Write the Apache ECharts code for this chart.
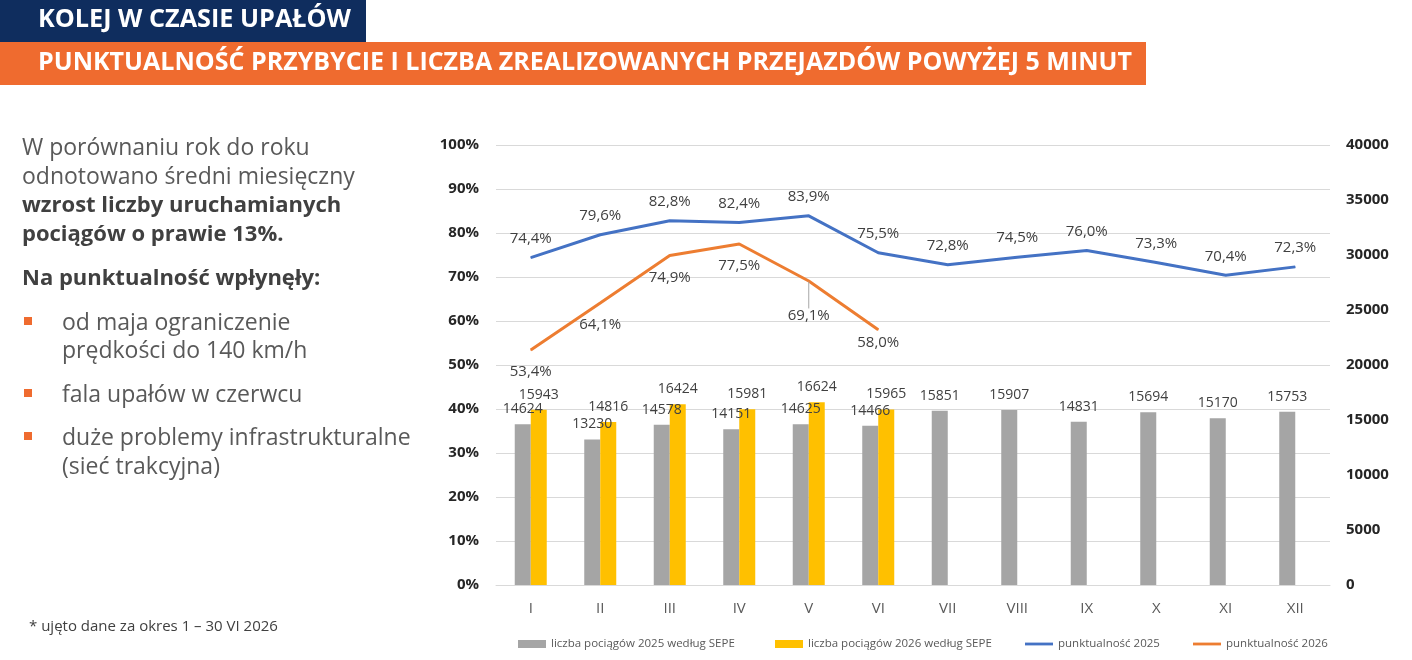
<!DOCTYPE html>
<html>
<head>
<meta charset="utf-8">
<script src="https://cdn.jsdelivr.net/npm/echarts@6/dist/echarts.min.js"></script>
<style>
  html, body { margin: 0; padding: 0; background: #fff; }
  #main { width: 1412px; height: 660px; }
</style>
</head>
<body>
<div id="main"></div>
<script>
// dane
var months = ['I', 'II', 'III', 'IV', 'V', 'VI', 'VII', 'VIII', 'IX', 'X', 'XI', 'XII'];
var trains2025 = [14624, 13230, 14578, 14151, 14625, 14466, 15851, 15907, 14831, 15694, 15170, 15753];
var trains2026 = [15943, 14816, 16424, 15981, 16624, 15965];
var punct2025 = [74.4, 79.6, 82.8, 82.4, 83.9, 75.5, 72.8, 74.5, 76.0, 73.3, 70.4, 72.3];
var punct2026 = [53.4, 64.1, 74.9, 77.5, 69.1, 58.0];

var seriesNames = ['liczba pociągów 2025 według SEPE', 'liczba pociągów 2026 według SEPE', 'punktualność 2025', 'punktualność 2026'];

var titleTop = 'KOLEJ W CZASIE UPAŁÓW';
var titleSub = 'PUNKTUALNOŚĆ PRZYBYCIE I LICZBA ZREALIZOWANYCH PRZEJAZDÓW POWYŻEJ 5 MINUT';
var footnote = '* ujęto dane za okres 1 – 30 VI 2026';

var FONT = '"Open Sans", "Noto Sans", sans-serif';

// szerokosc tekstu -> skala pozioma (naglowki sa w kroju waskim)
function fitScale(text, font, target) {
  var ctx = document.createElement('canvas').getContext('2d');
  ctx.font = font;
  return target / ctx.measureText(text).width;
}
var headFont = 'bold 25px ' + FONT;

function pct(v) {
  return v.toFixed(1).replace('.', ',') + '%';
}

// tekst po lewej
var leftLines = [
  { t: 'W porównaniu rok do roku', x: 22, y: 148, bold: false },
  { t: 'odnotowano średni miesięczny', x: 22, y: 177, bold: false },
  { t: 'wzrost liczby uruchamianych', x: 22, y: 206, bold: true },
  { t: 'pociągów o prawie 13%.', x: 22, y: 235, bold: true },
  { t: 'Na punktualność wpłynęły:', x: 22, y: 279, bold: true },
  { t: 'od maja ograniczenie', x: 62, y: 323, bold: false },
  { t: 'prędkości do 140 km/h', x: 62, y: 351, bold: false },
  { t: 'fala upałów w czerwcu', x: 62, y: 395, bold: false },
  { t: 'duże problemy infrastrukturalne', x: 62, y: 438, bold: false },
  { t: '(sieć trakcyjna)', x: 62, y: 467, bold: false }
];
var bulletY = [321, 393, 436];

var graphics = [
  { type: 'rect', shape: { x: 0, y: 0, width: 366, height: 42 }, style: { fill: '#0F2D5E' } },
  { type: 'rect', shape: { x: 0, y: 42, width: 1146, height: 43 }, style: { fill: '#EF6B2F' } },
  { type: 'text', x: 38, y: 20, scaleX: fitScale(titleTop, headFont, 313),
    style: { text: titleTop, font: headFont, fill: '#fff', verticalAlign: 'middle' } },
  { type: 'text', x: 38, y: 63, scaleX: fitScale(titleSub, headFont, 1094),
    style: { text: titleSub, font: headFont, fill: '#fff', verticalAlign: 'middle' } },
  { type: 'text', x: 29, y: 627,
    style: { text: footnote, font: '15px ' + FONT, fill: '#404040', verticalAlign: 'middle' } }
];
leftLines.forEach(function (l) {
  graphics.push({
    type: 'text', x: l.x, y: l.y,
    style: {
      text: l.t,
      font: (l.bold ? 'bold 22px ' : '23px ') + FONT,
      fill: l.bold ? '#404040' : '#595959',
      verticalAlign: 'middle'
    }
  });
});
bulletY.forEach(function (y) {
  graphics.push({ type: 'rect', shape: { x: 24, y: y - 4, width: 8, height: 8 }, style: { fill: '#EF6B2F' } });
});

var myChart = echarts.init(document.getElementById('main'));

var legendBase = {
  top: 633,
  itemWidth: 28,
  itemHeight: 8,
  textStyle: { fontFamily: FONT, fontSize: 11.5, color: '#595959' },
  selectedMode: false
};
function legendAt(left, name, icon) {
  return Object.assign({}, legendBase, { left: left, data: [{ name: name, icon: icon }] });
}

option = {
  animation: false,
  textStyle: { fontFamily: FONT },
  graphic: graphics,
  legend: [
    legendAt(513, seriesNames[0], 'rect'),
    legendAt(770, seriesNames[1], 'rect'),
    legendAt(1020, seriesNames[2], 'path://M0 0H30V3H0Z'),
    legendAt(1188, seriesNames[3], 'path://M0 0H30V3H0Z')
  ],
  grid: { left: 496, right: 82, top: 145, bottom: 75 },
  xAxis: {
    type: 'category',
    data: months,
    axisLine: { lineStyle: { color: '#d9d9d9' } },
    axisTick: { show: false },
    axisLabel: { color: '#595959', fontSize: 15, margin: 16 }
  },
  yAxis: [
    {
      type: 'value',
      min: 0, max: 100, interval: 10,
      axisLine: { show: false },
      axisTick: { show: false },
      axisLabel: { formatter: '{value}%', fontWeight: 'bold', fontSize: 15, color: '#262626', margin: 17 },
      splitLine: { lineStyle: { color: '#d9d9d9' } }
    },
    {
      type: 'value',
      position: 'right',
      min: 0, max: 40000, interval: 5000,
      axisLine: { show: false },
      axisTick: { show: false },
      axisLabel: {
        fontWeight: 'bold', fontSize: 15, color: '#262626', margin: 16,
        formatter: function (v) { return String(v); }
      },
      splitLine: { show: false }
    }
  ],
  series: [
    {
      name: seriesNames[0],
      type: 'bar',
      yAxisIndex: 1,
      data: trains2025,
      barWidth: 16,
      barGap: '0%',
      itemStyle: { color: '#A5A5A5' },
      label: { show: true, position: 'top', distance: 8, color: '#404040', fontSize: 14 }
    },
    {
      name: seriesNames[1],
      type: 'bar',
      yAxisIndex: 1,
      data: trains2026,
      barWidth: 16,
      barGap: '0%',
      itemStyle: { color: '#FFC000' },
      label: { show: true, position: 'top', distance: 8, color: '#404040', fontSize: 14 }
    },
    {
      name: seriesNames[2],
      type: 'line',
      yAxisIndex: 0,
      data: punct2025,
      symbol: 'circle',
      symbolSize: 1,
      lineStyle: { color: '#4472C4', width: 3 },
      itemStyle: { color: '#4472C4' },
      label: {
        show: true, position: 'top', distance: 11, color: '#404040', fontSize: 15,
        formatter: function (p) { return pct(p.value); }
      }
    },
    {
      name: seriesNames[3],
      type: 'line',
      yAxisIndex: 0,
      data: punct2026.map(function (v, i) {
        return i === 4 ? { value: v, labelLine: { show: true, lineStyle: { color: '#a6a6a6', width: 1 } } } : v;
      }),
      symbol: 'circle',
      symbolSize: 1,
      lineStyle: { color: '#ED7D31', width: 3 },
      itemStyle: { color: '#ED7D31' },
      label: {
        show: true, position: 'bottom', distance: 14, color: '#404040', fontSize: 15,
        formatter: function (p) { return pct(p.value); }
      },
      labelLayout: function (p) {
        if (p.dataIndex === 4) return { dy: 13 };
        if (p.dataIndex === 5) return { dy: -9 };
        return {};
      }
    }
  ]
};
myChart.setOption(option);
</script>
</body>
</html>
